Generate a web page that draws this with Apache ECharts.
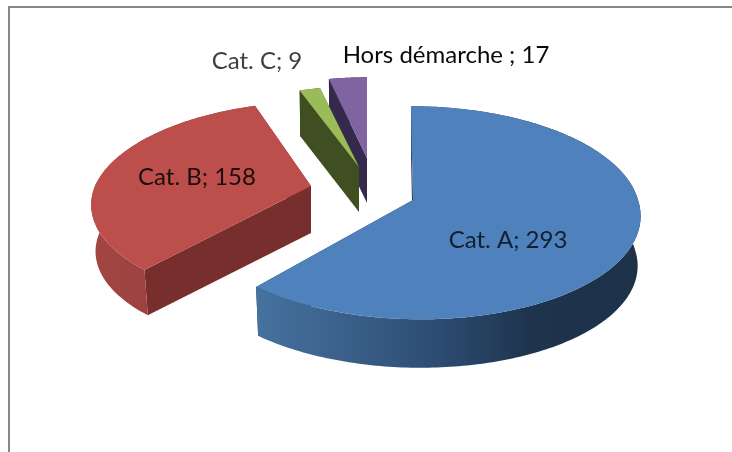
<!DOCTYPE html>
<html>
<head>
<meta charset="utf-8">
<script src="https://cdn.jsdelivr.net/npm/echarts@6/dist/echarts.min.js"></script>
<style>html,body{margin:0;padding:0;background:#fff}#c{width:732px;height:452px}</style>
</head>
<body>
<div id="c"></div>
<script>
const categories = ['Cat. A', 'Cat. B', 'Cat. C', 'Hors démarche'];
const values = [293, 158, 9, 17];
const separators = ['; ', '; ', '; ', ' ; '];
const paintOrder = [3, 2, 1, 0];

// Appearance of each exploded, perspective-tilted slice (not data).
const looks = [
  {cx:413, cy:200, a:225, b:105, k:.12, sb:-2.2, sf:-7, h:50, s:.987, top:'#4F81BD', wall:'#1f3550',
   arc:[[0,'#46729f'],[.45,'#2e4f75'],[.72,'#1e334c'],[1,'#1d3249']],
   label:[508,240], text:'#10202e'},
  {cx:311, cy:186, a:216, b:98, k:.16, sb:8.6, sf:5.8, h:47, s:.98, top:'#BC4F4C', wall:'#772E2D',
   arc:[[0,'#a34542'],[.35,'#9b4240'],[1,'#9b4240']],
   label:[197,177], text:'#1c0c0c'},
  {cx:359, cy:167, a:200, b:92, k:.14, sb:0, sf:0, h:45, s:.99, top:'#9BBB59', wall:'#3F4F21',
   arc:[[0,'#3F4F21'],[1,'#3F4F21']],
   label:[257,61], text:'#404040'},
  {cx:367, cy:158, a:195, b:92, k:.14, sb:0, sf:0, h:45, s:.99, top:'#8064A2', wall:'#35294D',
   arc:[[0,'#35294D'],[1,'#35294D']],
   label:[446,55], text:'#0a0a0a'}
];

const total = values.reduce((p, v) => p + v, 0);

function project(l, deg) {
  const t = deg * Math.PI / 180;
  const u = Math.sin(t), v = Math.cos(t), d = 1 + l.k * v;
  const shear = (v > 0 ? l.sb : l.sf) * v;
  return [l.cx + (l.a * u + shear) / d, l.cy - l.b * v / d];
}
function lower(l, p) {
  return [l.cx + (p[0] - l.cx) * l.s, l.cy + (p[1] - l.cy) * l.s + l.h];
}

function renderSlice(params, api) {
  const i = api.value(0);
  const l = looks[i];
  let before = 0;
  for (let j = 0; j < i; j++) before += values[j];
  const a0 = before / total * 360;
  const a1 = (before + api.value(1)) / total * 360;
  const rim = [];
  const n = Math.max(2, Math.ceil(a1 - a0));
  for (let j = 0; j <= n; j++) rim.push(project(l, a0 + (a1 - a0) * j / n));
  const apex = [l.cx, l.cy];
  const apexLow = lower(l, apex);
  const low = rim.map(p => lower(l, p));
  const wall = (p, q) => ({
    type: 'polygon', silent: true,
    shape: {points: [apex, p, q, apexLow]},
    style: {fill: l.wall}
  });
  return {
    type: 'group',
    children: [
      wall(rim[0], low[0]),
      wall(rim[n], low[n]),
      {
        type: 'polygon', silent: true,
        shape: {points: rim.concat(low.slice().reverse())},
        style: {fill: new echarts.graphic.LinearGradient(0, 0, 1, 0,
          l.arc.map(s => ({offset: s[0], color: s[1]})))}
      },
      {
        type: 'polygon', silent: true,
        shape: {points: [apex].concat(rim)},
        style: {fill: l.top}
      },
      {
        type: 'text', silent: true,
        x: l.label[0], y: l.label[1],
        style: {
          text: categories[i] + separators[i] + api.value(1),
          fill: l.text,
          font: '24px Lato',
          align: 'center', verticalAlign: 'middle'
        }
      }
    ]
  };
}

const chart = echarts.init(document.getElementById('c'), null, {renderer: 'canvas'});
chart.setOption({
  animation: false,
  backgroundColor: '#ffffff',
  graphic: [
    {type: 'rect', silent: true, shape: {x: 8, y: 6, width: 2, height: 446}, style: {fill: '#868686'}},
    {type: 'rect', silent: true, shape: {x: 8, y: 6, width: 724, height: 2}, style: {fill: '#868686'}}
  ],
  series: [{
    type: 'custom',
    coordinateSystem: 'none',
    renderItem: renderSlice,
    data: paintOrder.map(i => [i, values[i]])
  }]
});
</script>
</body>
</html>
